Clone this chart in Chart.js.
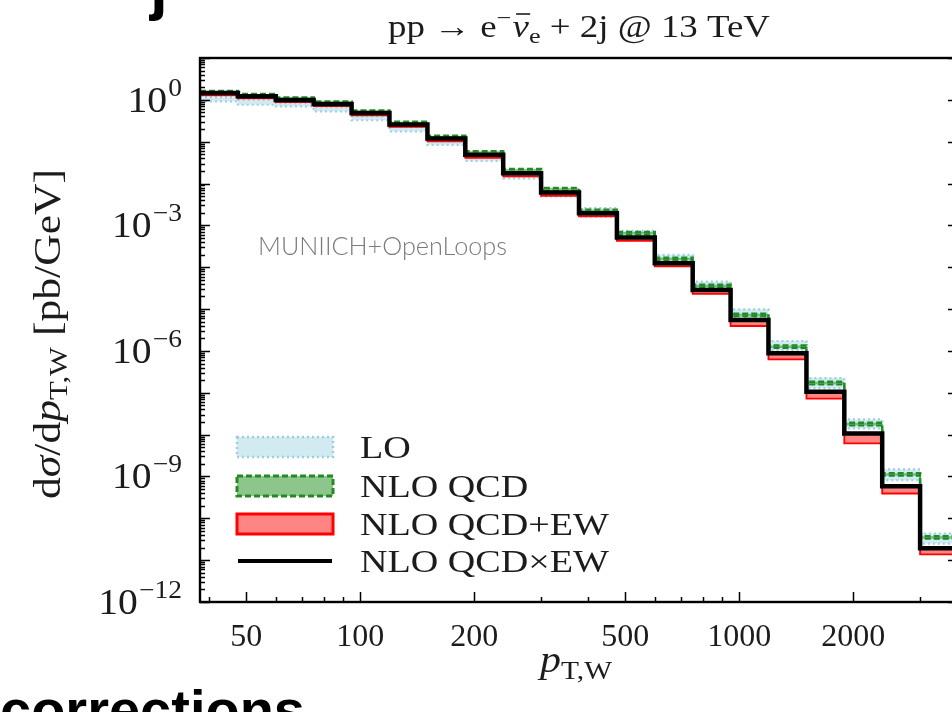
<!DOCTYPE html>
<html><head><meta charset="utf-8">
<script src="https://cdn.jsdelivr.net/npm/chart.js@4.4.1/dist/chart.umd.min.js"></script>
<style>
html,body{margin:0;padding:0;width:952px;height:712px;overflow:hidden;background:#fff;}
#wrap{position:absolute;left:0;top:0;width:1000px;height:712px;}
</style></head><body>
<div id="wrap"><canvas id="c" width="1000" height="712"></canvas></div>
<script>
// ---- data ----
const binEdges = [37.77, 47.55, 59.86, 75.36, 94.87, 119.4, 150.4, 189.3, 238.3, 300.0, 377.7, 475.5, 598.6, 753.6, 948.7, 1194, 1504, 1893, 2383, 3000, 3777];
const xTickLabels = [50, 100, 200, 500, 1000, 2000];
const xMinorTicks = [40, 60, 70, 80, 90, 300, 400, 600, 700, 800, 900, 3000];
const yLabelExponents = [0, -3, -6, -9, -12];
const seriesNames = ['LO', 'NLO QCD', 'NLO QCD+EW', 'NLO QCD×EW'];

const qcdTimesEw = [1.455, 1.219, 0.989, 0.798, 0.483, 0.258, 0.1193, 0.0486, 0.01773, 0.00609, 1.958e-3, 5.11e-4, 1.246e-4, 2.863e-5, 5.48e-6, 8.76e-7, 1.057e-7, 1.068e-8, 5.86e-10, 1.93e-11];
const loHi = [1.141, 1.006, 0.838, 0.673, 0.405, 0.2236, 0.1069, 0.04425, 0.0166, 0.00688, 2.58e-3, 7.39e-4, 1.97e-4, 4.52e-5, 9.89e-6, 1.725e-6, 2.247e-7, 2.31e-8, 1.47e-9, 4.33e-11];
const loLo = [0.916, 0.763, 0.695, 0.528, 0.325, 0.1754, 0.0843, 0.0349, 0.01332, 0.00494, 1.623e-3, 5.40e-4, 1.36e-4, 3.146e-5, 6.36e-6, 1.051e-6, 1.296e-7, 1.407e-8, 8.16e-10, 2.49e-11];
const nloHi = [1.63, 1.38, 1.135, 0.91, 0.555, 0.298, 0.138, 0.059, 0.0222, 0.00777, 2.38e-3, 6.97e-4, 1.69e-4, 3.82e-5, 7.73e-6, 1.35e-6, 1.825e-7, 1.91e-8, 1.194e-9, 3.71e-11];
const nloLo = [1.41, 1.20, 0.988, 0.792, 0.483, 0.259, 0.1198, 0.0513, 0.0193, 0.00675, 2.07e-3, 6.05e-4, 1.47e-4, 3.32e-5, 6.71e-6, 1.17e-6, 1.587e-7, 1.66e-8, 1.038e-9, 3.23e-11];
const qcdPlusEwHi = [1.50, 1.25, 1.02, 0.82, 0.495, 0.264, 0.122, 0.0495, 0.0180, 0.0062, 1.98e-3, 5.15e-4, 1.25e-4, 2.87e-5, 5.5e-6, 8.8e-7, 1.06e-7, 1.07e-8, 5.9e-10, 1.95e-11];
const qcdPlusEwLo = [1.288, 1.092, 0.886, 0.711, 0.428, 0.2273, 0.1023, 0.0412, 0.01487, 0.00508, 1.642e-3, 4.26e-4, 1.045e-4, 2.297e-5, 3.94e-6, 6.30e-7, 7.26e-8, 6.16e-9, 3.92e-10, 1.38e-11];

// ---- styles ----
const SERIF = '"Liberation Serif", "DejaVu Serif", serif';
const TXT = '#1c1c1c';
const C_LO_FILL = 'rgba(173,216,230,0.55)', C_LO_LINE = '#9dcfe1';
const C_NLO_FILL = 'rgba(0,128,0,0.45)', C_NLO_LINE = '#238b23';
const C_EW_FILL = 'rgba(255,0,0,0.48)', C_EW_LINE = '#ff0000';

function steps(vals) {
  const pts = vals.map((v, i) => ({x: binEdges[i], y: v}));
  pts.push({x: binEdges[binEdges.length - 1], y: vals[vals.length - 1]});
  return pts;
}
const common = {stepped: true, pointRadius: 0, pointHoverRadius: 0, borderJoinStyle: 'miter', borderCapStyle: 'butt'};

const datasets = [
  Object.assign({label: seriesNames[3], data: steps(qcdTimesEw), borderColor: '#000', borderWidth: 4.5, fill: false}, common),
  Object.assign({label: seriesNames[2] + ' hi', data: steps(qcdPlusEwHi), borderColor: C_EW_LINE, borderWidth: 1.8, fill: '+1', backgroundColor: C_EW_FILL}, common),
  Object.assign({label: seriesNames[2] + ' lo', data: steps(qcdPlusEwLo), borderColor: C_EW_LINE, borderWidth: 1.8, fill: false}, common),
  Object.assign({label: seriesNames[1] + ' hi', data: steps(nloHi), borderColor: C_NLO_LINE, borderWidth: 2.5, borderDash: [6, 3], fill: '+1', backgroundColor: C_NLO_FILL}, common),
  Object.assign({label: seriesNames[1] + ' lo', data: steps(nloLo), borderColor: C_NLO_LINE, borderWidth: 2.0, borderDash: [6, 3], fill: false}, common),
  Object.assign({label: seriesNames[0] + ' hi', data: steps(loHi), borderColor: C_LO_LINE, borderWidth: 2.2, borderDash: [2, 3], fill: '+1', backgroundColor: C_LO_FILL}, common),
  Object.assign({label: seriesNames[0] + ' lo', data: steps(loLo), borderColor: C_LO_LINE, borderWidth: 2.2, borderDash: [2, 3], fill: false}, common)
];

function richWidth(ctx, segs) {
  let w = 0;
  for (const s of segs) { ctx.font = s.font; w += ctx.measureText(s.t).width + (s.gap || 0); }
  return w;
}
// draw a run of text pieces; opt.target = wanted total width, opt.sx = horizontal stretch
function drawRich(ctx, segs, x, y, align, opt) {
  opt = opt || {};
  const w = richWidth(ctx, segs);
  const sx = opt.target ? opt.target / w : (opt.sx || 1);
  const tw = w * sx;
  const x0 = align === 'center' ? x - tw / 2 : (align === 'right' ? x - tw : x);
  ctx.save();
  ctx.translate(x0, y);
  ctx.scale(sx, 1);
  ctx.textAlign = 'left';
  ctx.textBaseline = 'alphabetic';
  let cx = 0;
  for (const s of segs) {
    ctx.font = s.font;
    const sw = ctx.measureText(s.t).width;
    ctx.fillText(s.t, cx, (s.dy || 0));
    if (s.bar) {
      ctx.lineWidth = 1.6; ctx.strokeStyle = ctx.fillStyle;
      ctx.beginPath(); ctx.moveTo(cx + 3, s.barY); ctx.lineTo(cx + sw + 1, s.barY); ctx.stroke();
    }
    cx += sw + (s.gap || 0);
  }
  ctx.restore();
}

const decor = {
  id: 'decor',
  afterDatasetsDraw(chart) {
    const ctx = chart.ctx, a = chart.chartArea, xs = chart.scales.x, ys = chart.scales.y;
    ctx.save();
    // frame
    ctx.strokeStyle = '#000'; ctx.lineWidth = 2.4;
    ctx.strokeRect(a.left, a.top, a.right - a.left, a.bottom - a.top);
    // ticks (inward)
    ctx.lineWidth = 1.5;
    ctx.beginPath();
    for (let e = -12; e <= 1; e++) {
      for (let m = 1; m <= 9; m++) {
        const v = m * Math.pow(10, e);
        if (v > 10 || v < 1e-12) continue;
        const y = Math.round(ys.getPixelForValue(v)) + 0.5;
        const len = m === 1 ? 10 : 5;
        ctx.moveTo(a.left, y); ctx.lineTo(a.left + len, y);
        ctx.moveTo(a.right, y); ctx.lineTo(a.right - len, y);
      }
    }
    for (const v of xTickLabels) { const x = Math.round(xs.getPixelForValue(v)) + 0.5; ctx.moveTo(x, a.bottom); ctx.lineTo(x, a.bottom - 10); }
    for (const v of xMinorTicks) { const x = Math.round(xs.getPixelForValue(v)) + 0.5; ctx.moveTo(x, a.bottom); ctx.lineTo(x, a.bottom - 5); }
    ctx.stroke();

    ctx.fillStyle = TXT;
    // y tick labels 10^n
    const R36 = '36px ' + SERIF, S25 = '25px ' + SERIF;
    for (const e of yLabelExponents) {
      const y = ys.getPixelForValue(Math.pow(10, e));
      const ex = (e < 0 ? '\u2212' : '') + Math.abs(e);
      drawRich(ctx, [{t: '10', font: R36, gap: 1}, {t: ex, font: S25, dy: -16}], 182, y + 12, 'right', {sx: 1.1});
    }
    // title
    const R31 = '31px ' + SERIF, I31 = 'italic 31px ' + SERIF, S22 = '22px ' + SERIF;
    drawRich(ctx, [
      {t: 'pp \u2192 e', font: R31}, {t: '\u2212', font: S22, dy: -12, gap: 1},
      {t: '\u03BD', font: I31, bar: true, barY: -23}, {t: 'e', font: S22, dy: 6},
      {t: ' + 2j @ 13 TeV', font: R31}
    ], (a.left + a.right) / 2, 37, 'center', {target: 382});
    // y axis label
    const R37 = '37px ' + SERIF, I37 = 'italic 37px ' + SERIF, S26 = '26px ' + SERIF;
    ctx.save();
    ctx.translate(60, 334);
    ctx.rotate(-Math.PI / 2);
    drawRich(ctx, [
      {t: 'd', font: R37}, {t: '\u03C3', font: I37}, {t: '/d', font: R37}, {t: 'p', font: I37},
      {t: 'T,W', font: S26, dy: 7}, {t: ' [pb/GeV]', font: R37}
    ], 0, 0, 'center', {target: 330});
    ctx.restore();
    // x axis label
    drawRich(ctx, [{t: 'p', font: I37}, {t: 'T,W', font: S26, dy: 7}], 576, 672, 'center', {target: 72});

    // program label
    ctx.fillStyle = '#7b7b7b';
    ctx.font = '300 23px Lato, "Open Sans", sans-serif';
    const txt = 'MUNIICH+OpenLoops';
    const w0 = ctx.measureText(txt).width;
    const fs = 23 * 249 / w0;
    ctx.font = '300 ' + fs.toFixed(2) + 'px Lato, "Open Sans", sans-serif';
    ctx.textAlign = 'left'; ctx.textBaseline = 'alphabetic';
    ctx.fillText(txt, 258, 255);

    // legend
    const lx = 237, lw = 96, lh = 20;
    const ents = [
      {y: 437, fill: C_LO_FILL, line: C_LO_LINE, dash: [2, 3], lwid: 2.5},
      {y: 476, fill: C_NLO_FILL, line: C_NLO_LINE, dash: [6, 3], lwid: 3},
      {y: 514, fill: C_EW_FILL, line: C_EW_LINE, dash: [], lwid: 3}
    ];
    ents.forEach(en => {
      ctx.fillStyle = en.fill; ctx.fillRect(lx, en.y, lw, lh);
      ctx.setLineDash(en.dash); ctx.strokeStyle = en.line; ctx.lineWidth = en.lwid;
      ctx.strokeRect(lx, en.y, lw, lh);
    });
    ctx.setLineDash([]);
    ctx.strokeStyle = '#000'; ctx.lineWidth = 4;
    ctx.beginPath(); ctx.moveTo(lx + 1, 561); ctx.lineTo(lx + lw - 1, 561); ctx.stroke();
    ctx.fillStyle = TXT;
    const ly = [458, 497, 535, 572];
    const R32 = '32px ' + SERIF;
    seriesNames.forEach((n, i) => drawRich(ctx, [{t: n, font: R32}], 360, ly[i], 'left', {sx: 1.19}));

    // cropped slide text fragments
    ctx.fillStyle = '#000';
    ctx.font = 'bold 64px "Liberation Sans", Arial, sans-serif';
    ctx.textAlign = 'left'; ctx.textBaseline = 'alphabetic';
    ctx.fillText('j', 150, 8);
    ctx.font = 'bold 56px "Liberation Sans", Arial, sans-serif';
    ctx.fillText('corrections', 0, 729);
    ctx.restore();
  }
};

new Chart(document.getElementById('c'), {
  type: 'line',
  data: {datasets},
  options: {
    responsive: false, animation: false, devicePixelRatio: 1,
    layout: {padding: {left: 0, top: 58, right: 42, bottom: 0}},
    plugins: {legend: {display: false}, tooltip: {enabled: false}, title: {display: false}},
    scales: {
      x: {
        type: 'logarithmic', min: binEdges[0], max: binEdges[binEdges.length - 1],
        grid: {display: false, drawTicks: false}, border: {display: false},
        afterBuildTicks: s => { s.ticks = xTickLabels.map(v => ({value: v})); },
        afterFit: s => { s.height = 110; },
        ticks: {autoSkip: false, maxRotation: 0, padding: 16, color: TXT, font: {family: SERIF, size: 32},
          callback: v => String(v)}
      },
      y: {
        type: 'logarithmic', min: 1e-12, max: 10,
        grid: {display: false, drawTicks: false}, border: {display: false},
        ticks: {display: false},
        afterFit: s => { s.width = 200; }
      }
    }
  },
  plugins: [decor]
});
</script>
</body></html>
